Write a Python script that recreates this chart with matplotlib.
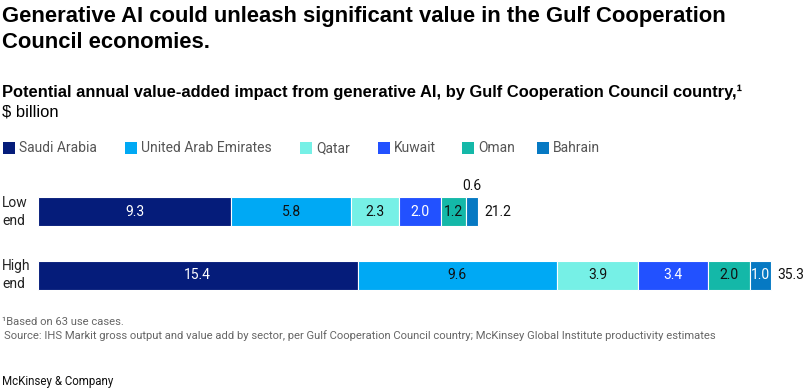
import numpy as np
import matplotlib.pyplot as plt
from matplotlib.patches import Rectangle

# Datos
paises = ['Saudi Arabia', 'United Arab Emirates', 'Qatar', 'Kuwait', 'Oman', 'Bahrain']
escenarios = ['Low\nend', 'High\nend']
low_end = [9.3, 5.8, 2.3, 2.0, 1.2, 0.6]
high_end = [15.4, 9.6, 3.9, 3.4, 2.0, 1.0]
totales = [21.2, 35.3]

colores = ['#051C7A', '#00A9F4', '#76F0E6', '#2251FF', '#14B8A8', '#0679C3']
color_texto = ['white', '#111111', '#111111', 'white', '#111111', 'white']

plt.rcParams['font.family'] = ['Liberation Sans', 'DejaVu Sans']
estrecha = ['Roboto', 'Liberation Sans']

fig = plt.figure(figsize=(8.1, 3.91), dpi=100)
W, H = 810, 391

def fx(px):
    return px / W

def fy(py):
    return 1 - py / H

# Titulos
fig.text(fx(2), fy(6), 'Generative AI could unleash significant value in the Gulf Cooperation\nCouncil economies.',
         fontsize=15.8, fontweight='bold', va='top', ha='left', color='#000000', linespacing=1.3)
fig.text(fx(2), fy(92), 'Potential annual value-added impact from generative AI, by Gulf Cooperation Council country,\u00b9',
         fontsize=11.9, fontweight='bold', va='center', ha='left', color='#000000')
fig.text(fx(2), fy(112), '$ billion', fontsize=11.9, va='center', ha='left', color='#000000')

# Leyenda manual
leyenda_x = [3, 125, 300, 378, 462, 537]
for i, pais in enumerate(paises):
    fig.patches.append(Rectangle((fx(leyenda_x[i]), fy(154)), fx(12), 12 / H,
                                 transform=fig.transFigure, facecolor=colores[i], edgecolor='none'))
    fig.text(fx(leyenda_x[i] + 16), fy(148), pais, fontsize=10, va='center', ha='left', color='#555555',
             family=estrecha)

# Barras
ax = fig.add_axes([fx(38), fy(295), fx(768), (295 - 190) / H])
datos = [low_end, high_end]
for j, fila in enumerate(datos):
    izq = 0
    for i, v in enumerate(fila):
        ax.barh(j, v, left=izq, height=0.46, color=colores[i], edgecolor='white', linewidth=0.8)
        if not (j == 0 and i == 5):
            ax.text(izq + v / 2, j, f'{v:.1f}', ha='center', va='center', fontsize=10, color=color_texto[i],
                    family=estrecha)
        else:
            ax.text(izq + v / 2, j - 0.30, f'{v:.1f}', ha='center', va='bottom', fontsize=10, color='#111111',
                    family=estrecha)
        izq += v
    ax.text(totales[j] + 0.3, j, f'{totales[j]:.1f}', ha='left', va='center', fontsize=10, color='#111111',
            family=estrecha)
    fig.text(fx(2), fy(212 + 63 * j), escenarios[j], fontsize=10, va='center', ha='left', color='#222222',
             linespacing=1.3, family=estrecha)

ax.set_xlim(0, 37)
ax.set_ylim(1.317, -0.349)
ax.axis('off')

# Notas
fig.text(fx(2), fy(322), '\u00b9Based on 63 use cases.', fontsize=8.1, va='center', ha='left', color='#666666',
         family=estrecha)
fig.text(fx(4), fy(336), 'Source: IHS Markit gross output and value add by sector, per Gulf Cooperation Council country; '
         'McKinsey Global Institute productivity estimates', fontsize=8.1, va='center', ha='left', color='#666666',
         family=estrecha)
fig.text(fx(2), fy(381), 'McKinsey & Company', fontsize=8.3, va='center', ha='left', color='#111111',
         family=estrecha)

plt.savefig('out.png', dpi=100)
